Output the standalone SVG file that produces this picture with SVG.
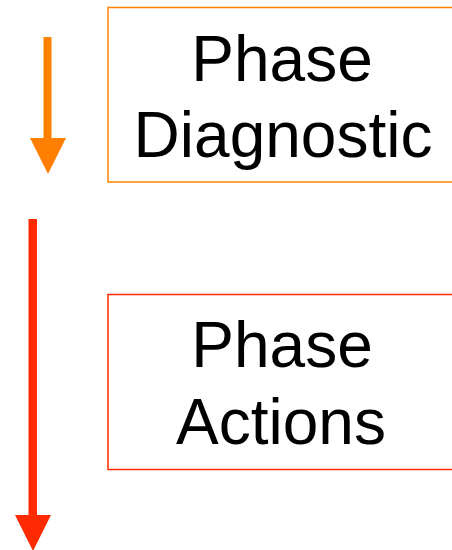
<svg xmlns="http://www.w3.org/2000/svg" width="452" height="550" viewBox="0 0 452 550">
<style>
.lbl{font-family:"Liberation Sans",Arial,sans-serif;font-size:64px;fill:#000;text-anchor:middle}
.box{fill:#fff;stroke-width:1.5}
</style>
<rect width="452" height="550" fill="#fff"/>
<g id="connectors">
<g id="arrow-diagnostic" fill="#FF8000">
<rect x="43.5" y="37" width="8" height="102"/>
<polygon points="30,138 66,138 48,174"/>
</g>
<g id="arrow-actions" fill="#FF2A00">
<rect x="28.5" y="219" width="8.5" height="297"/>
<polygon points="15,515 51,515 33,551"/>
</g>
</g>
<g id="node-diagnostic">
<rect class="box" x="108" y="7.5" width="350" height="174.5" stroke="#FF8000"/>
<text class="lbl" x="282" y="81">Phase</text>
<text class="lbl" x="283" y="157">Diagnostic</text>
</g>
<g id="node-actions">
<rect class="box" x="108" y="294.5" width="350" height="175" stroke="#FF2A00"/>
<text class="lbl" x="282" y="367">Phase</text>
<text class="lbl" x="281" y="444">Actions</text>
</g>
</svg>
